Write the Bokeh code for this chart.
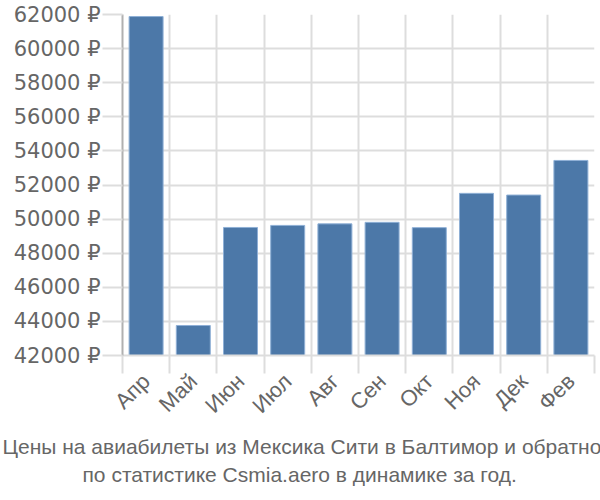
import math
from bokeh.plotting import figure
from bokeh.models import Range1d, FixedTicker, Title
from bokeh.embed import file_html
from bokeh.resources import INLINE

months = ["Апр", "Май", "Июн", "Июл", "Авг", "Сен", "Окт", "Ноя", "Дек", "Фев"]
prices = [61880, 43760, 49510, 49630, 49720, 49810, 49500, 51510, 51410, 53440]
y_ticks = [42000, 44000, 46000, 48000, 50000, 52000, 54000, 56000, 58000, 60000, 62000]
y_labels = [f"{t} ₽" for t in y_ticks]
title_lines = ["Цены на авиабилеты из Мексика Сити в Балтимор и обратно",
               "по статистике Csmia.aero в динамике за год."]

n = len(months)
centers = [i + 0.5 for i in range(n)]
bounds = list(range(n + 1))

p = figure(width=600, height=500, output_backend="svg", toolbar_location=None,
           x_range=Range1d(0, n), y_range=Range1d(42000, 62000),
           min_border_left=122, min_border_right=6, min_border_top=14, min_border_bottom=145)
p.outline_line_color = None
p.background_fill_color = "white"

p.vbar(x=centers, top=prices, bottom=42000, width=0.72,
       fill_color="#4c78a8", line_color="#8fb0d6", line_width=1)

grid_col = "#dddddd"
label_col = "#666666"

xa = p.xaxis[0]
xa.ticker = FixedTicker(ticks=centers, minor_ticks=bounds)
xa.major_label_overrides = {c: m for c, m in zip(centers, months)}
xa.major_tick_line_color = None
xa.minor_tick_out = 18
xa.minor_tick_in = 0
xa.minor_tick_line_color = grid_col
xa.minor_tick_line_width = 2
xa.axis_line_color = grid_col
xa.axis_line_width = 2
xa.major_label_orientation = math.pi / 4
xa.major_label_text_font = "Liberation Sans"
xa.major_label_text_font_size = "22px"
xa.major_label_text_color = label_col
xa.major_label_standoff = 4

ya = p.yaxis[0]
ya.ticker = FixedTicker(ticks=y_ticks)
ya.major_label_overrides = {t: l for t, l in zip(y_ticks, y_labels)}
ya.major_tick_out = 20
ya.major_tick_in = 0
ya.major_tick_line_color = grid_col
ya.major_tick_line_width = 2
ya.minor_tick_line_color = None
ya.axis_line_color = "#b0b0b0"
ya.axis_line_width = 2
ya.major_label_text_font = "DejaVu Sans"
ya.major_label_text_font_size = "21px"
ya.major_label_text_color = label_col
ya.major_label_standoff = 2

p.xgrid.ticker = FixedTicker(ticks=bounds)
p.xgrid.grid_line_color = grid_col
p.xgrid.grid_line_width = 2
p.ygrid.grid_line_color = grid_col
p.ygrid.grid_line_width = 2

title_offsets = [-120, -40]
title_standoffs = [6, 1]
for line, off, so in zip(title_lines, title_offsets, title_standoffs):
    t = Title(text=line, align="left", text_font="Liberation Sans",
              text_font_size="21px", text_color=label_col, text_font_style="normal",
              standoff=so, offset=off)
    p.add_layout(t, "below")

open("out.html", "w").write(file_html(p, INLINE))
